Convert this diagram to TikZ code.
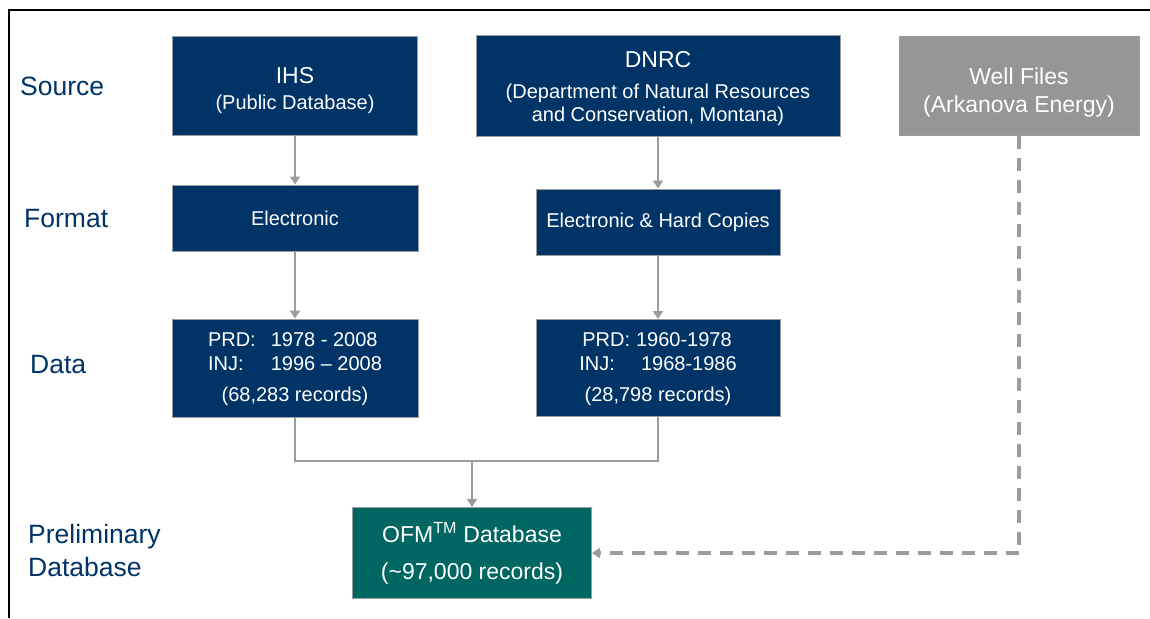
\documentclass[tikz,border=0pt]{standalone}
\usepackage{fontspec}
\setmainfont{Liberation Sans}
\usetikzlibrary{arrows.meta,positioning}
\definecolor{navyblue}{RGB}{0,51,102}
\definecolor{tealgreen}{RGB}{0,102,98}
\definecolor{wellgray}{RGB}{150,150,150}
\definecolor{linegray}{RGB}{155,156,160}

\tikzset{
  srcbox/.style={draw=linegray, line width=1pt, fill=navyblue, text=white, align=center, inner sep=0pt},
  rowlabel/.style={text=navyblue, anchor=west, align=left, inner sep=0pt, font=\fontsize{26.5}{33}\selectfont},
  flow/.style={draw=linegray, line width=2.6pt, -{Triangle[width=10pt,length=8pt]}},
  wellflow/.style={flow, line width=3.4pt, dash pattern=on 13pt off 9pt},
}

\begin{document}
\begin{tikzpicture}[x=1pt,y=-1pt]
  \useasboundingbox (0,0) rectangle (1150,618);
  % frame
  \draw[line width=1.5pt] (9,618) -- (9,10) -- (1150,10);

  % row labels
  \node[rowlabel] (lsource) at (20,86) {Source};
  \node[rowlabel] (lformat) at (24,219) {Format};
  \node[rowlabel] (ldata) at (30,365) {Data};
  \node[rowlabel] (lprelim) at (28,551) {Preliminary\\Database};

  % sources (a strut on the first line pushes the text a little down)
  \node[srcbox, minimum width=245pt, minimum height=99pt, font=\fontsize{20}{26}\selectfont] (ihs) at (295,86)
    {{\fontsize{23}{28}\selectfont\rule{0pt}{25.5pt}IHS}\\(Public Database)};
  \node[srcbox, minimum width=364pt, minimum height=100pt, font=\fontsize{20}{23}\selectfont] (dnrc) at (658,86)
    {{\fontsize{23}{28}\selectfont\rule{0pt}{21.5pt}DNRC}\\[8pt](Department of Natural Resources\\and Conservation, Montana)};
  \node[srcbox, fill=wellgray, minimum width=240pt, minimum height=98pt, font=\fontsize{23}{28}\selectfont] (well) at (1019,86)
    {\rule{0pt}{28.8pt}Well Files\\(Arkanova Energy)};

  % formats
  \node[srcbox, minimum width=246pt, minimum height=66pt, font=\fontsize{20}{25}\selectfont] (elec) at (295,218) {Electronic};
  \node[srcbox, minimum width=244pt, minimum height=66pt, font=\fontsize{20}{25}\selectfont] (hard) at (658,222) {Electronic \& Hard Copies};

  % data
  \node[srcbox, minimum width=246pt, minimum height=98pt, font=\fontsize{20}{24}\selectfont] (ihsdata) at (295,368)
    {\begin{tabular}[b]{@{}l@{\hspace{15pt}}l@{}}PRD: & 1978 - 2008\\INJ: & 1996 – 2008\end{tabular}\\[7pt](68,283 records)};
  \node[srcbox, minimum width=244pt, minimum height=97pt, font=\fontsize{20}{24}\selectfont] (dnrcdata) at (658,368)
    {\begin{tabular}[b]{@{}l@{\hspace{6pt}}l@{}}\hspace{3pt}PRD: & 1960-1978\\INJ: & \hspace{5pt}1968-1986\end{tabular}\\[7pt](28,798 records)};

  % database
  \node[srcbox, fill=tealgreen, minimum width=239pt, minimum height=91pt, font=\fontsize{23}{28}\selectfont] (ofm) at (472,553)
    {OFM\textsuperscript{TM} Database\\[9pt](\textasciitilde97,000 records)};

  \coordinate (merge) at (472,461);

  % connectors
  \draw[flow] (ihs) -- (elec);
  \draw[flow] (dnrc) -- (hard);
  \draw[flow] (elec) -- (ihsdata);
  \draw[flow] (hard) -- (dnrcdata);
  \draw[draw=linegray, line width=2.6pt] (ihsdata.south) |- (merge) -| (dnrcdata.south);
  \draw[flow] (merge) -- (ofm);
  \draw[wellflow] (well.south) |- (ofm.east);
\end{tikzpicture}
\end{document}
